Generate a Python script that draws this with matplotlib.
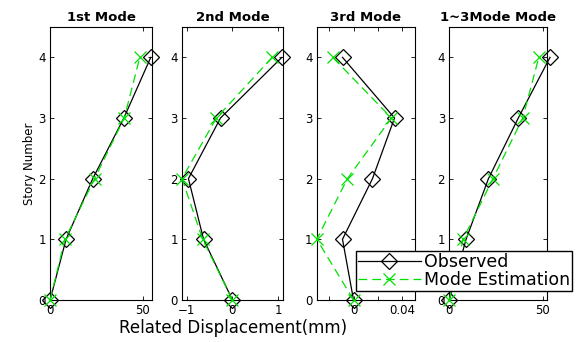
import matplotlib.pyplot as plt

stories = [0, 1, 2, 3, 4]
titles = ["1st Mode", "2nd Mode", "3rd Mode", "1~3Mode Mode"]

obs_1 = [0, 8.6, 23, 39.8, 54.3]
est_1 = [0, 8, 24, 40, 48.4]
obs_2 = [0, -0.63, -0.96, -0.26, 1.08]
est_2 = [0, -0.65, -1.1, -0.35, 0.87]
obs_3 = [0, -0.009, 0.0155, 0.0335, -0.009]
est_3 = [0, -0.030, -0.005, 0.031, -0.017]
obs_all = [0, 9, 21, 37, 54]
est_all = [0, 7.4, 23.4, 39.4, 48]

observed = [obs_1, obs_2, obs_3, obs_all]
estimated = [est_1, est_2, est_3, est_all]

xlims = [(0, 55), (-1.1, 1.1), (-0.03, 0.05), (0, 52.5)]
xticks = [[0, 50], [-1, 0, 1], [-0.02, 0, 0.02, 0.04], [0, 50]]
xticklabels = [["0", "50"], ["\u22121", "0", "1"], ["", "0", "", "0.04"], ["0", "50"]]

lefts = [0.087, 0.316, 0.550, 0.780]
widths = [0.177, 0.175, 0.170, 0.170]

fig = plt.figure(figsize=(5.76, 3.42), dpi=100)

for i in range(4):
    ax = fig.add_axes([lefts[i], 0.123, widths[i], 0.798])
    l1, = ax.plot(observed[i], stories, color='black', lw=0.9, marker='D',
                  ms=8.5, mfc='none', mec='black', mew=0.9, label='Observed',
                  clip_on=False, zorder=3)
    l2, = ax.plot(estimated[i], stories, color='#00e000', lw=0.9, ls=(0, (7, 4)),
                  marker='x', ms=8, mew=0.9, label='Mode Estimation',
                  clip_on=False, zorder=4)
    ax.set_xlim(*xlims[i])
    ax.set_ylim(0, 4.5)
    ax.set_yticks(stories)
    ax.set_xticks(xticks[i])
    ax.set_xticklabels(xticklabels[i])
    ax.tick_params(direction='in', top=True, right=True, labelsize=8.5,
                   length=3, width=0.6, pad=3)
    for s in ax.spines.values():
        s.set_linewidth(0.8)
    ax.set_title(titles[i], fontsize=9.5, fontweight='bold', pad=4)
    if i == 0:
        ax.set_ylabel("Story Number", fontsize=8.5, labelpad=2)

fig.text(0.405, 0.041, "Related Displacement(mm)", ha='center', va='center', fontsize=12)

leg = fig.legend([l1, l2], ["Observed", "Mode Estimation"], loc='upper right',
                 bbox_to_anchor=(0.993, 0.266), fontsize=12.5, fancybox=False,
                 edgecolor='black', framealpha=1, borderpad=0.1, handlelength=3.6,
                 handletextpad=0.2, labelspacing=0.0, borderaxespad=0.0)
leg.set_zorder(10)

fig.savefig("out.png", dpi=100)
